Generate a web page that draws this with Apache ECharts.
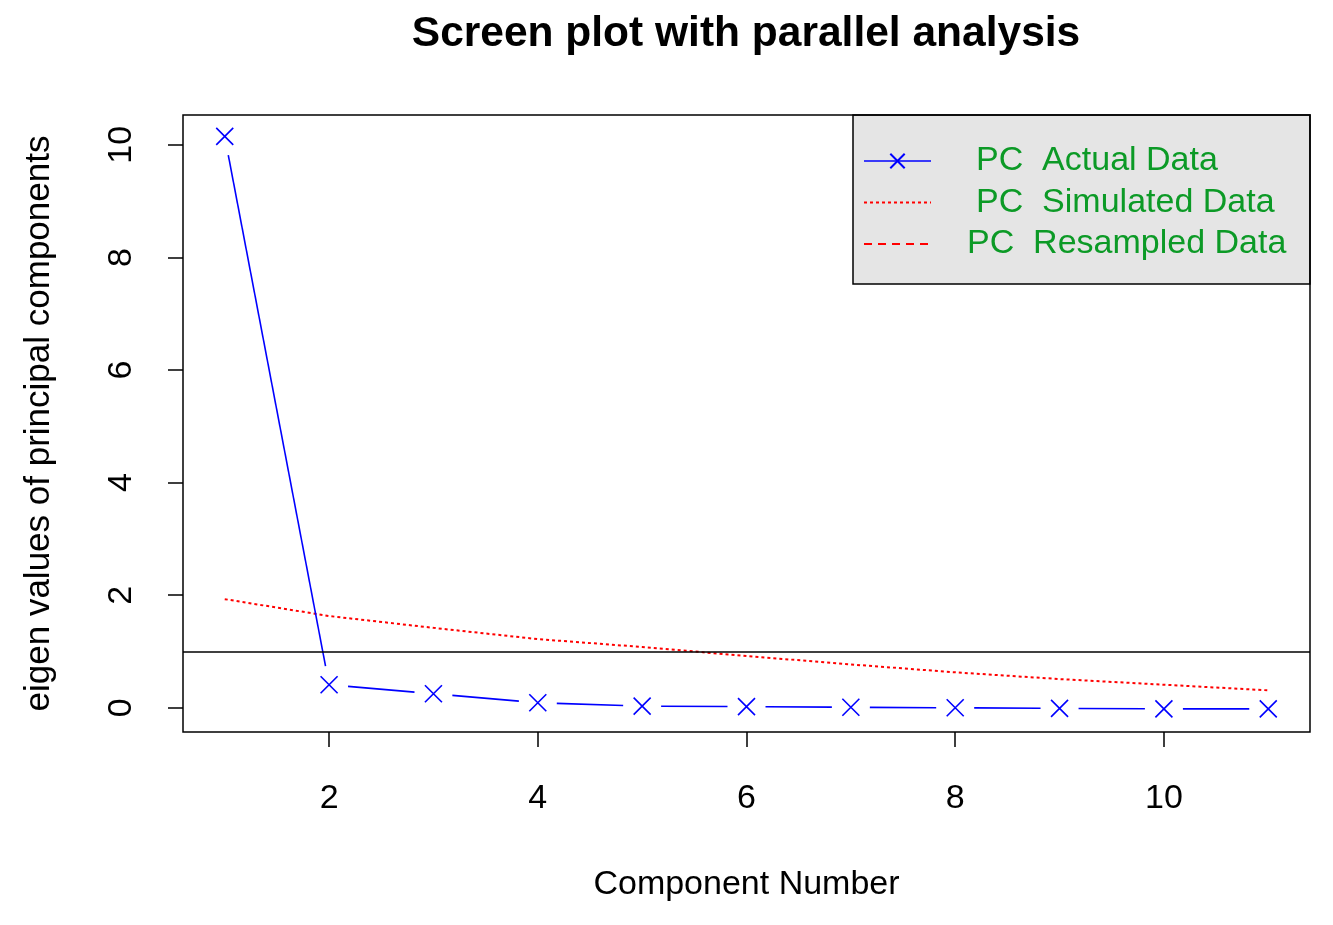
<!DOCTYPE html>
<html>
<head>
<meta charset="utf-8">
<title>Screen plot with parallel analysis</title>
<script src="https://cdn.jsdelivr.net/npm/echarts@6/dist/echarts.min.js"></script>
<style>
    html, body { margin: 0; padding: 0; background: #fff; }
    #main { width: 1333px; height: 925px; }
</style>
</head>
<body>
<div id="main"></div>
<script>
// 数据
var components = [1, 2, 3, 4, 5, 6, 7, 8, 9, 10, 11];
var actualData = [10.15, 0.41, 0.25, 0.09, 0.03, 0.02, 0.01, 0.0, -0.01, -0.02, -0.02];
var simulatedData = [1.93, 1.63, 1.42, 1.22, 1.08, 0.92, 0.77, 0.63, 0.51, 0.41, 0.31];
var resampledData = [];
var xTicks = [2, 4, 6, 8, 10];
var yTicks = [0, 2, 4, 6, 8, 10];
var kaiserLine = 1;

var FONT = '"Liberation Sans", Arial, sans-serif';
var crossSymbol = 'path://M0,0L10,10M10,0L0,10';

// type="b" 线段, 两端留空
var segments = [];
for (var i = 0; i < components.length - 1; i++) {
    segments.push([components[i], actualData[i], components[i + 1], actualData[i + 1]]);
}

var myChart = echarts.init(document.getElementById('main'));
var option = {
    backgroundColor: '#ffffff',
    animation: false,
    title: {
        text: 'Screen plot with parallel analysis',
        left: 746,
        textAlign: 'center',
        top: 13,
        padding: 0,
        textStyle: {
            fontFamily: FONT,
            fontSize: 42.5,
            fontWeight: 'bold',
            color: '#000'
        }
    },
    grid: {
        left: 183,
        right: 23,
        top: 115,
        bottom: 193,
        show: true,
        borderColor: '#000',
        borderWidth: 1.5,
        backgroundColor: 'transparent'
    },
    legend: {
        orient: 'vertical',
        left: 863,
        top: 144,
        padding: 0,
        itemWidth: 67,
        itemHeight: 18,
        itemGap: 7.5,
        selectedMode: false,
        textStyle: {
            fontFamily: FONT,
            fontSize: 34,
            color: '#0c9a26',
            padding: [0, 0, 0, 40]
        },
        data: [
            {name: 'PC  Actual Data', lineStyle: {opacity: 1, width: 1.5, color: '#0000ff'}},
            {name: 'PC  Simulated Data', itemStyle: {opacity: 0}},
            {name: 'PC  Resampled Data', itemStyle: {opacity: 0}, textStyle: {padding: [0, 0, 0, 31]}}
        ]
    },
    graphic: [{
        type: 'rect',
        z: -1,
        shape: {x: 853, y: 115, width: 457, height: 169},
        style: {fill: '#e5e5e5', stroke: '#000', lineWidth: 1.5}
    }],
    xAxis: {
        type: 'value',
        min: 0.6,
        max: 11.4,
        name: 'Component Number',
        nameLocation: 'middle',
        nameGap: 136,
        nameTextStyle: {fontFamily: FONT, fontSize: 34, color: '#000'},
        axisLine: {show: false, onZero: false},
        splitLine: {show: false},
        axisTick: {
            show: true,
            length: 15,
            customValues: xTicks,
            lineStyle: {color: '#000', width: 1.5}
        },
        axisLabel: {
            customValues: xTicks,
            margin: 50,
            fontFamily: FONT,
            fontSize: 34,
            color: '#000'
        }
    },
    yAxis: {
        type: 'value',
        min: -0.43,
        max: 10.53,
        name: 'eigen values of principal components',
        nameLocation: 'middle',
        nameGap: 126,
        nameTextStyle: {fontFamily: FONT, fontSize: 35, color: '#000'},
        axisLine: {show: false, onZero: false},
        splitLine: {show: false},
        axisTick: {
            show: true,
            length: 15,
            customValues: yTicks,
            lineStyle: {color: '#000', width: 1.5}
        },
        axisLabel: {
            customValues: yTicks,
            rotate: 90,
            margin: 44,
            fontFamily: FONT,
            fontSize: 34,
            color: '#000'
        }
    },
    series: [
        {
            name: 'PC  Actual Data',
            type: 'line',
            data: components.map(function (c, i) { return [c, actualData[i]]; }),
            symbol: crossSymbol,
            symbolSize: 17,
            showAllSymbol: true,
            lineStyle: {opacity: 0},
            itemStyle: {color: '#0000ff', borderColor: '#0000ff', borderWidth: 1.6},
            z: 5
        },
        {
            name: 'actualSegments',
            type: 'custom',
            data: segments,
            encode: {x: [0, 2], y: [1, 3]},
            z: 4,
            renderItem: function (params, api) {
                var p0 = api.coord([api.value(0), api.value(1)]);
                var p1 = api.coord([api.value(2), api.value(3)]);
                var dx = p1[0] - p0[0], dy = p1[1] - p0[1];
                var len = Math.sqrt(dx * dx + dy * dy);
                var gap = 19;
                if (len <= 2 * gap) return null;
                var ux = dx / len, uy = dy / len;
                return {
                    type: 'line',
                    shape: {
                        x1: p0[0] + ux * gap, y1: p0[1] + uy * gap,
                        x2: p1[0] - ux * gap, y2: p1[1] - uy * gap
                    },
                    style: {stroke: '#0000ff', lineWidth: 1.6}
                };
            }
        },
        {
            name: 'PC  Simulated Data',
            type: 'line',
            data: components.map(function (c, i) { return [c, simulatedData[i]]; }),
            symbol: 'none',
            lineStyle: {color: '#ff0000', width: 2, type: [3, 3]},
            itemStyle: {color: '#ff0000'},
            z: 3,
            markLine: {
                silent: true,
                symbol: ['none', 'none'],
                label: {show: false},
                lineStyle: {color: '#000', width: 1.5, type: 'solid'},
                data: [{yAxis: kaiserLine}]
            }
        },
        {
            name: 'PC  Resampled Data',
            type: 'line',
            data: resampledData,
            symbol: 'none',
            lineStyle: {color: '#ff0000', width: 2, type: [8, 6]},
            itemStyle: {color: '#ff0000'}
        }
    ]
};
myChart.setOption(option);
</script>
</body>
</html>
